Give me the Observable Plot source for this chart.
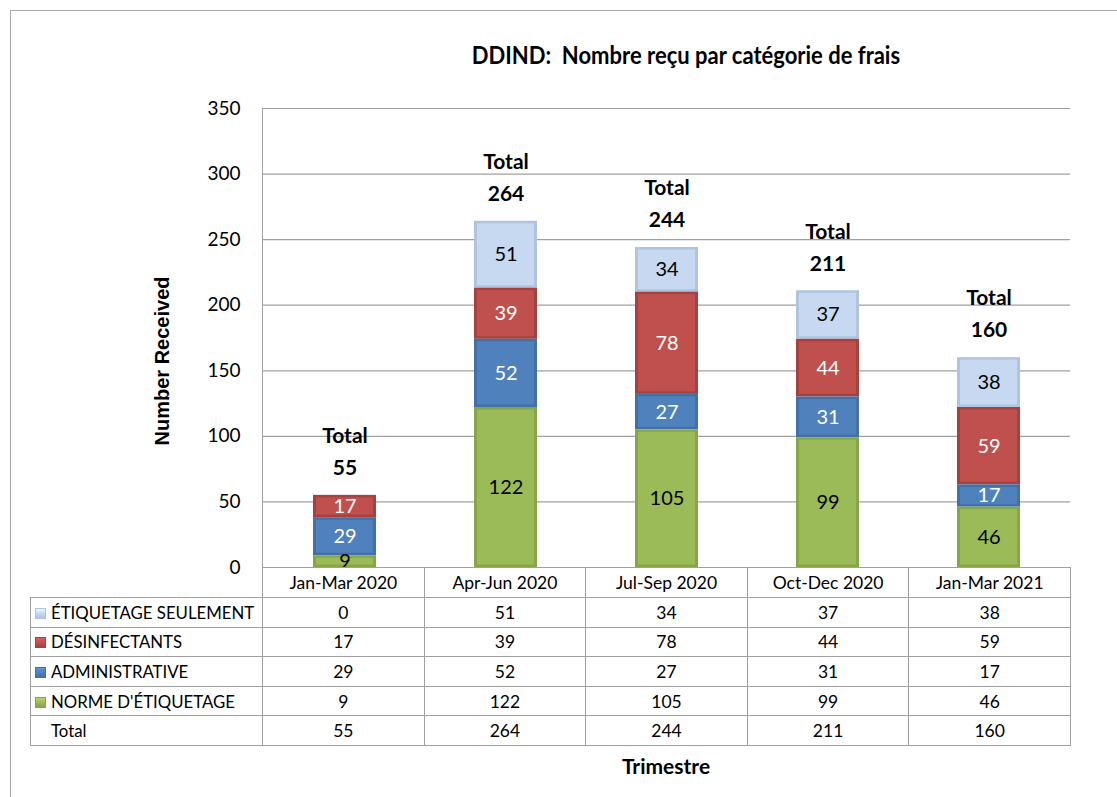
<!DOCTYPE html>
<html>
<head>
<meta charset="utf-8">
<script src="https://cdn.jsdelivr.net/npm/d3@7"></script>
<script src="https://cdn.jsdelivr.net/npm/@observablehq/plot@0.6"></script>
<style>
  body { margin: 0; background: #fff; overflow: hidden; font-family: Lato, "Open Sans", sans-serif; color: #000; }
  #wrap { position: relative; width: 1117px; height: 797px; overflow: hidden; background: #fff; }
  #border { position: absolute; left: 10px; top: 10px; width: 1300px; height: 900px; border: 1.5px solid #a8a8a8; }
  #title { position: absolute; left: 0; width: 1372px; top: 40px; line-height: 30px; text-align: center; font-weight: bold; font-size: 22px; transform: scaleY(1.1); }
  #chart { position: absolute; left: 0; top: 0; }
  #yline { position: absolute; left: 261.5px; top: 108px; height: 460px; width: 0; border-left: 1px solid #a0a0a0; }
  #ylabel { position: absolute; left: 12px; top: 349px; width: 300px; height: 24px; line-height: 24px; text-align: center;
            transform: rotate(-90deg); font-family: "Liberation Sans", Arial, sans-serif; font-weight: bold; font-size: 20px; }
  #xlabel { position: absolute; left: 262px; width: 808px; top: 753px; line-height: 26px; text-align: center; font-weight: bold; font-size: 21px; }
  table { position: absolute; left: 30px; top: 567px; border-collapse: collapse; table-layout: fixed; width: 1040px; font-size: 17.5px; background: transparent; }
  td { border: 1px solid #a0a0a0; padding: 0; text-align: center; height: 28.6px; white-space: nowrap; }
  td.lab { text-align: left; padding-left: 4px; font-size: 16.8px; }
  tr.head td { height: 29px; }
  td.empty { border-top: none; border-left: none; }
  .sw { display: inline-block; width: 11px; height: 11px; margin-right: 5px; vertical-align: 0px; box-sizing: border-box; }
</style>
</head>
<body>
<div id="wrap">
  <div id="border"></div>
  <div id="title"></div>
  <div id="chart"></div>
  <div id="yline"></div>
  <div id="ylabel"></div>
  <div id="xlabel"></div>
  <table id="tbl"></table>
</div>
<script>
// ---- data ----
const titleText = "DDIND:\u00a0 Nombre reçu par catégorie de frais";
const yLabelText = "Number Received";
const xLabelText = "Trimestre";
const quarters = ["Jan-Mar 2020", "Apr-Jun 2020", "Jul-Sep 2020", "Oct-Dec 2020", "Jan-Mar 2021"];
// table order (top to bottom)
const series = ["ÉTIQUETAGE SEULEMENT", "DÉSINFECTANTS", "ADMINISTRATIVE", "NORME D'ÉTIQUETAGE"];
const etiquetageSeulement = [0, 51, 34, 37, 38];
const desinfectants = [17, 39, 78, 44, 59];
const administrative = [29, 52, 27, 31, 17];
const normeEtiquetage = [9, 122, 105, 99, 46];
const totals = [55, 264, 244, 211, 160];
const yTicks = [0, 50, 100, 150, 200, 250, 300, 350];
const totalLabel = "Total";

const baseColors = ["#c6d9f1", "#c0504d", "#4f81bd", "#9bbb59"];
const edgeColors = ["#aec4e0", "#a5413e", "#4270a8", "#86a64a"];
const labelColors = ["black", "white", "white", "black"];

// ---- build ----
const seriesValues = [etiquetageSeulement, desinfectants, administrative, normeEtiquetage];
const data = series.flatMap((s, i) => quarters.map((q, j) => ({quarter: q, series: s, value: seriesValues[i][j], si: i})));
const totalsData = quarters.map((q, j) => ({quarter: q, total: totals[j]}));
const stackOrder = [...series].reverse();

document.getElementById("title").textContent = titleText;
document.getElementById("ylabel").textContent = yLabelText;
document.getElementById("xlabel").textContent = xLabelText;

const stackOpts = (extra) => Plot.stackY({x: "quarter", y: "value", z: "series", order: stackOrder, ...extra});

const chart = Plot.plot({
  width: 1117,
  height: 597,
  marginTop: 108,
  marginBottom: 30,
  marginLeft: 262,
  marginRight: 47,
  x: {domain: quarters, paddingInner: 0.61, paddingOuter: 0.305, axis: null},
  y: {domain: [0, 350], axis: null},
  color: {type: "identity"},
  style: {fontFamily: "Lato, 'Open Sans', sans-serif", background: "transparent", color: "black", overflow: "visible"},
  marks: [
    Plot.ruleY(yTicks, {stroke: "#a0a0a0", strokeWidth: 1.2}),
    Plot.axisY({ticks: yTicks, tickSize: 0, tickPadding: 22, fontSize: 19, tickFormat: d => String(d), label: null}),
    Plot.barY(data, stackOpts({fill: d => edgeColors[d.si]})),
    Plot.barY(data, stackOpts({fill: d => baseColors[d.si], insetLeft: 3, insetRight: 3, insetTop: 2.5, insetBottom: 2.5})),
    Plot.text(data, stackOpts({text: d => d.value > 0 ? String(d.value) : "", fill: d => labelColors[d.si], fontSize: 20})),
    Plot.text(totalsData, {x: "quarter", y: "total", text: d => String(d.total), dy: -27, fontSize: 21, fontWeight: "bold", fill: "black"}),
    Plot.text(totalsData, {x: "quarter", y: "total", text: () => totalLabel, dy: -59, fontSize: 21, fontWeight: "bold", fill: "black"})
  ]
});
document.getElementById("chart").appendChild(chart);

// ---- data table ----
const tbl = document.getElementById("tbl");
const colgroup = document.createElement("colgroup");
[232, ...quarters.map(() => 161.6)].forEach(w => {
  const c = document.createElement("col"); c.style.width = w + "px"; colgroup.appendChild(c);
});
tbl.appendChild(colgroup);
const head = document.createElement("tr"); head.className = "head";
const e = document.createElement("td"); e.className = "empty"; head.appendChild(e);
quarters.forEach(q => { const td = document.createElement("td"); td.textContent = q; head.appendChild(td); });
tbl.appendChild(head);
function swatch(i, hidden) {
  const s = document.createElement("span"); s.className = "sw";
  if (hidden) { s.style.visibility = "hidden"; }
  else {
    s.style.background = `linear-gradient(${d3.color(baseColors[i]).brighter(0.4)}, ${baseColors[i]} 50%, ${edgeColors[i]})`;
    s.style.border = `1px solid ${edgeColors[i]}`;
  }
  return s;
}
series.forEach((s, i) => {
  const tr = document.createElement("tr");
  const l = document.createElement("td"); l.className = "lab";
  l.appendChild(swatch(i, false)); l.appendChild(document.createTextNode(s));
  tr.appendChild(l);
  seriesValues[i].forEach(v => { const td = document.createElement("td"); td.textContent = v; tr.appendChild(td); });
  tbl.appendChild(tr);
});
const tt = document.createElement("tr");
const tl = document.createElement("td"); tl.className = "lab";
tl.appendChild(swatch(0, true)); tl.appendChild(document.createTextNode(totalLabel));
tt.appendChild(tl);
totals.forEach(v => { const td = document.createElement("td"); td.textContent = v; tt.appendChild(td); });
tbl.appendChild(tt);
</script>
</body>
</html>
